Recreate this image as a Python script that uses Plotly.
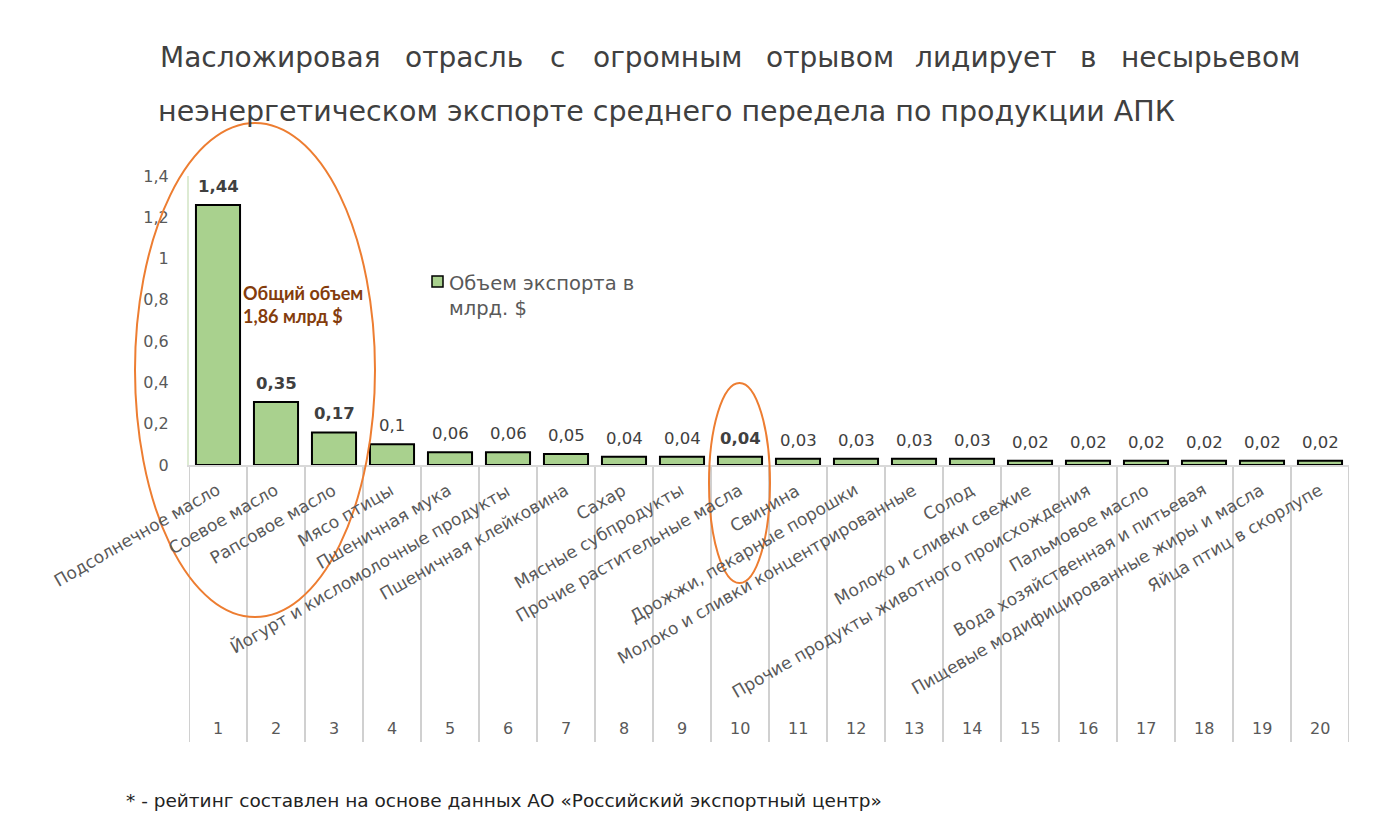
import plotly.graph_objects as go

# ---------------- data ----------------
ranks = list(range(1, 21))
categories = [
    "Подсолнечное масло", "Соевое масло", "Рапсовое масло", "Мясо птицы",
    "Пшеничная мука", "Йогурт и кисломолочные продукты", "Пшеничная клейковина",
    "Сахар", "Мясные субпродукты", "Прочие растительные масла",
    "Свинина", "Дрожжи, пекарные порошки", "Молоко и сливки концентрированные",
    "Солод", "Молоко и сливки свежие", "Прочие продукты животного происхождения",
    "Пальмовое масло", "Вода хозяйственная и питьевая",
    "Пищевые модифицированные жиры и масла", "Яйца птиц в скорлупе",
]
# bar heights as drawn in the picture (billion $)
bar_heights = [1.26, 0.305, 0.158, 0.10, 0.062, 0.062, 0.053, 0.04, 0.04, 0.04,
               0.03, 0.03, 0.03, 0.03, 0.02, 0.02, 0.02, 0.02, 0.02, 0.02]
# data-label texts as printed
value_labels = ["1,44", "0,35", "0,17", "0,1", "0,06", "0,06", "0,05", "0,04", "0,04", "0,04",
                "0,03", "0,03", "0,03", "0,03", "0,02", "0,02", "0,02", "0,02", "0,02", "0,02"]
bold_labels = [1, 2, 3, 10]

title_line1 = ["Масложировая", "отрасль", "с", "огромным", "отрывом", "лидирует", "в", "несырьевом"]
title_line2 = "неэнергетическом экспорте среднего передела по продукции АПК"
series_name = "Объем экспорта в<br>млрд. $"
total_note = "<b>Общий объем<br>1,86 млрд $</b>"
footnote = "* - рейтинг составлен на основе данных АО «Российский экспортный центр»"

# ---------------- layout helpers (pixel -> paper) ----------------
W, H = 1382, 818
L, R, T, B = 189, 33, 176, 353
PW, PH = W - L - R, H - T - B


def fx(px):
    return (px - L) / PW


def fy(py):
    return (H - B - py) / PH


FONT = "DejaVu Sans"
GRAY = "#595959"
DARK = "#404040"
GREEN = "#A9D18E"

fig = go.Figure()
fig.add_trace(go.Bar(
    x=ranks, y=bar_heights, name=series_name,
    marker=dict(color=GREEN, line=dict(color="#000000", width=2)),
    width=0.76, showlegend=False, hoverinfo="skip",
))

annotations = []
# data labels
for r, h, lab in zip(ranks, bar_heights, value_labels):
    txt = f"<b>{lab}</b>" if r in bold_labels else lab
    annotations.append(dict(x=r, y=h, xref="x", yref="y", text=txt, showarrow=False,
                            yanchor="bottom", yshift=7,
                            font=dict(family=FONT, size=16.5, color=DARK)))
# rotated category labels
for r, c in zip(ranks, categories):
    annotations.append(dict(x=r, y=0, xref="x", yref="y", text=c, showarrow=False,
                            textangle=-30, xanchor="right", yanchor="top",
                            xshift=8, yshift=-12,
                            font=dict(family=FONT, size=17, color=GRAY)))
# rank numbers
for r in ranks:
    annotations.append(dict(x=r, y=fy(728), xref="x", yref="paper", text=str(r),
                            showarrow=False, yanchor="middle",
                            font=dict(family=FONT, size=16, color=GRAY)))
# title line 1 (justified word by word)
word_pos = [(158, "left"), (464, "center"), (557, "center"), (667, "center"),
            (830, "center"), (986, "center"), (1088, "center"), (1302, "right")]
for w, (px, anc) in zip(title_line1, word_pos):
    annotations.append(dict(x=fx(px), y=fy(58), xref="paper", yref="paper", text=w,
                            showarrow=False, xanchor=anc, yanchor="middle",
                            font=dict(family=FONT, size=28, color=DARK)))
annotations.append(dict(x=fx(156), y=fy(112), xref="paper", yref="paper", text=title_line2,
                        showarrow=False, xanchor="left", yanchor="middle",
                        font=dict(family=FONT, size=28.5, color=DARK)))
# total note
annotations.append(dict(x=fx(241), y=fy(304), xref="paper", yref="paper", text=total_note,
                        showarrow=False, xanchor="left", yanchor="middle", align="left",
                        font=dict(family="Lato", size=18, color="#843C0C")))
# legend text
annotations.append(dict(x=fx(447), y=fy(270), xref="paper", yref="paper", text=series_name,
                        showarrow=False, xanchor="left", yanchor="top", align="left",
                        font=dict(family=FONT, size=19.5, color=GRAY)))
# footnote
annotations.append(dict(x=fx(124), y=fy(800), xref="paper", yref="paper", text=footnote,
                        showarrow=False, xanchor="left", yanchor="middle",
                        font=dict(family=FONT, size=18.5, color="#222222")))

shapes = []
# category separators
for k in range(21):
    shapes.append(dict(type="line", xref="x", yref="paper", x0=0.5 + k, x1=0.5 + k,
                       y0=0, y1=fy(742), line=dict(color="#D0D0D0", width=2), layer="below"))
# legend key
shapes.append(dict(type="rect", xref="paper", yref="paper",
                   x0=fx(432), x1=fx(443), y0=fy(287), y1=fy(276),
                   fillcolor=GREEN, line=dict(color="#000000", width=1.5)))
# highlight ellipses
shapes.append(dict(type="circle", xref="paper", yref="paper",
                   x0=fx(135), x1=fx(375), y0=fy(617), y1=fy(123),
                   line=dict(color="#ED7D31", width=2)))
shapes.append(dict(type="circle", xref="paper", yref="paper",
                   x0=fx(709), x1=fx(770), y0=fy(583), y1=fy(383),
                   line=dict(color="#ED7D31", width=2)))

fig.update_layout(
    width=W, height=H,
    margin=dict(l=L, r=R, t=T, b=B, pad=0),
    paper_bgcolor="white", plot_bgcolor="white",
    separators=", ",
    bargap=0.24,
    font=dict(family=FONT, color=GRAY),
    xaxis=dict(range=[0.5, 20.5], showticklabels=False, ticks="", showgrid=False,
               zeroline=False, showline=True, linecolor="#D9D9D9", linewidth=2),
    yaxis=dict(range=[0, 1.4], dtick=0.2, tick0=0, showgrid=False, zeroline=False,
               showline=True, linecolor="#DDEBD3", linewidth=2, ticks="",
               ticklabelstandoff=15,
               tickfont=dict(family=FONT, size=16, color=GRAY)),
    showlegend=False,
    annotations=annotations,
    shapes=shapes,
)

fig.write_html("out.html", config={"displayModeBar": False},
               post_script="document.body.style.margin='0';")
